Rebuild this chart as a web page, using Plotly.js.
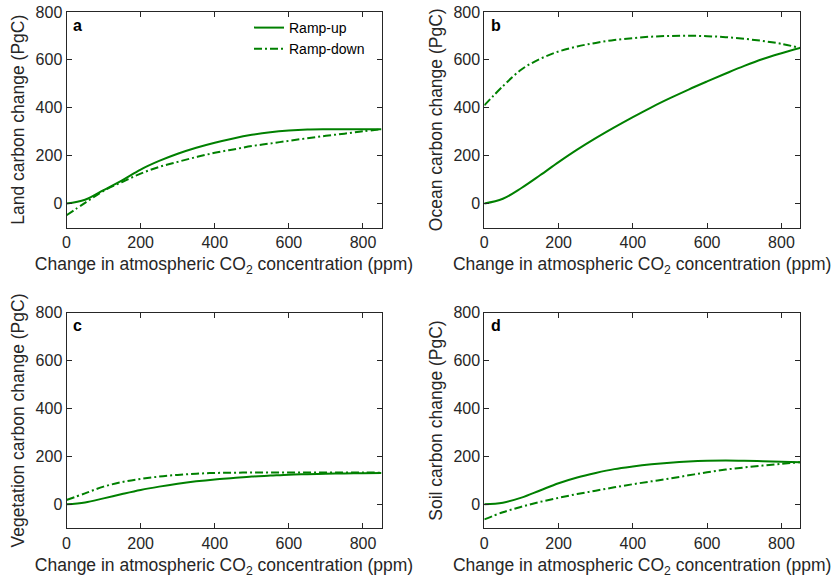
<!DOCTYPE html>
<html>
<head>
<meta charset="utf-8">
<script src="https://cdn.plot.ly/plotly-3.0.1.min.js"></script>
<style>html,body{margin:0;padding:0;background:#fff}#chart{width:839px;height:582px}</style>
</head>
<body>
<div id="chart"></div>
<script>
// CO2 change (ppm)
var co2 = [0,50,100,150,200,250,300,350,400,450,500,550,600,650,700,750,800,850];

var landUp   = [0,16,56,97,142,178,208,233,254,272,287,298,305,309,310,310,310,310];
var landDown = [-49,3,53,90,125,153,174,194,212,226,240,251,262,273,283,292,302,310];

var oceanUp   = [0,20,65,118,173,225,273,318,361,402,440,476,510,543,575,604,628,650];
var oceanDown = [410,490,560,604,635,656,671,683,691,697,700,701,699,695,688,679,667,650];

var vegUp   = [0,8,25,43,60,74,86,96,104,110,116,120,124,126,128,129,130,131];
var vegDown = [18,46,74,93,106,116,123,128,131,132,133,133,133,133,133,133,133,132];

var soilUp   = [0,7,28,58,88,112,131,147,158,167,174,179,182,183,182,180,178,176];
var soilDown = [-63,-33,-10,10,27,43,57,71,84,96,108,121,134,145,154,162,169,176];

var seriesNames = ['Ramp-up','Ramp-down'];
var panelLetters = ['a','b','c','d'];
var yTitles = ['Land carbon change (PgC)','Ocean carbon change (PgC)','Vegetation carbon change (PgC)','Soil carbon change (PgC)'];
var xTitle = 'Change in atmospheric CO<sub>2</sub> concentration (ppm)';
var xTicks = [0,200,400,600,800];
var yTicks = [0,200,400,600,800];

var panels = [[landUp,landDown],[oceanUp,oceanDown],[vegUp,vegDown],[soilUp,soilDown]];
var green = '#008000';
var dashes = ['solid','8px,3px,2px,3px'];

var traces = [];
panels.forEach(function(p, i){
  var ax = i === 0 ? '' : String(i+1);
  p.forEach(function(vals, j){
    traces.push({
      x: co2, y: vals, type: 'scatter', mode: 'lines',
      name: seriesNames[j], showlegend: i === 0,
      line: {color: green, width: 2, dash: dashes[j], shape: 'spline', smoothing: 1},
      xaxis: 'x' + ax, yaxis: 'y' + ax, hoverinfo: 'skip'
    });
  });
});

var W = 839, H = 582;
var xDomPx = [[66.5,381.5],[484.3,800],[66.5,381.5],[484.3,800]];
var yDomPx = [[12,227.5],[12,227.5],[312.7,528.3],[312.7,528.3]];

var fam = 'Liberation Sans, Arial, Helvetica, sans-serif';
var layout = {
  width: W, height: H,
  margin: {l:0, r:0, t:0, b:0},
  paper_bgcolor: '#fff', plot_bgcolor: '#fff',
  font: {family: fam, color: '#262626', size: 16},
  showlegend: true,
  legend: {x: 249/W, y: 1 - 12/H, xanchor: 'left', yanchor: 'top',
           bgcolor: 'rgba(0,0,0,0)', borderwidth: 0,
           font: {size: 14, color: '#000'}, itemwidth: 30, tracegroupgap: 0},
  annotations: []
};

for (var i = 0; i < 4; i++) {
  var ax = i === 0 ? '' : String(i+1);
  var common = {
    showline: true, mirror: 'ticks', linecolor: '#262626', linewidth: 1,
    ticks: 'inside', ticklen: 5, tickwidth: 1, tickcolor: '#262626',
    showgrid: false, zeroline: false, automargin: false,
    tickfont: {size: 16, color: '#262626'}
  };
  layout['xaxis' + ax] = Object.assign({}, common, {
    domain: [xDomPx[i][0]/W, xDomPx[i][1]/W],
    range: [0, 850], tickvals: xTicks, ticktext: xTicks.map(String),
    anchor: 'y' + ax,
    title: {text: xTitle, font: {size: 17.5, color: '#262626'}, standoff: 8}
  });
  layout['yaxis' + ax] = Object.assign({}, common, {
    domain: [1 - yDomPx[i][1]/H, 1 - yDomPx[i][0]/H],
    range: [-100, 800], tickvals: yTicks, ticktext: yTicks.map(String),
    anchor: 'x' + ax,
    title: {text: yTitles[i], font: {size: 17.5, color: '#262626'}, standoff: 6}
  });
  layout.annotations.push({
    text: '<b>' + panelLetters[i] + '</b>',
    xref: 'x' + ax + ' domain', yref: 'y' + ax + ' domain',
    x: 0.014, y: 0.988, xanchor: 'left', yanchor: 'top', showarrow: false,
    font: {size: 16, color: '#000'}
  });
}

Plotly.newPlot('chart', traces, layout, {staticPlot: true, displayModeBar: false});
</script>
</body>
</html>
